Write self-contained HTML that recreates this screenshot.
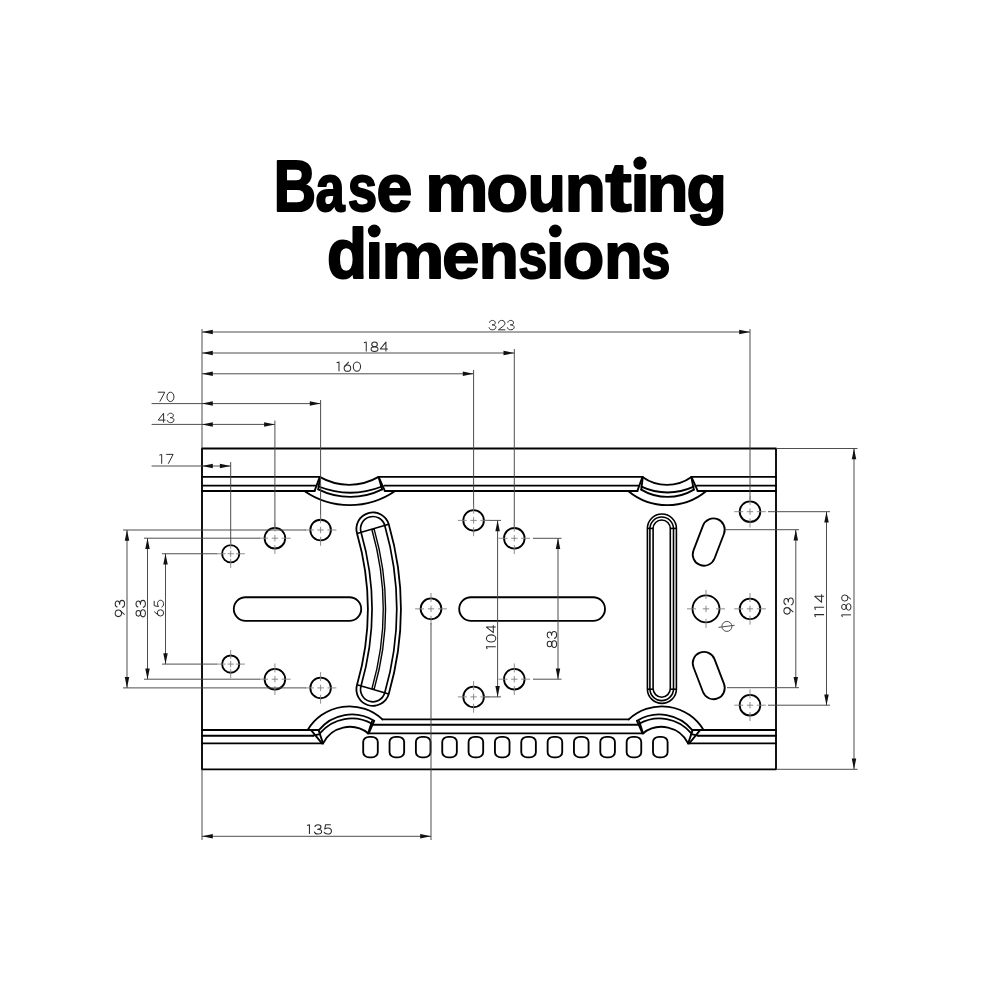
<!DOCTYPE html>
<html><head><meta charset="utf-8"><title>Base mounting dimensions</title>
<style>
html,body{margin:0;padding:0;background:#fff;}
body{width:1000px;height:1000px;overflow:hidden;}
svg{display:block;}
.title{font-family:"Liberation Sans",sans-serif;font-weight:bold;font-size:100px;fill:#000;stroke:#000;stroke-width:3.0px;stroke-linejoin:round;}
</style></head><body>
<svg width="1000" height="1000" viewBox="0 0 1000 1000">
<rect width="1000" height="1000" fill="#fff"/>
<g class="title">
<text transform="translate(273.7,210.73) scale(0.5859,0.7145)" x="0" y="0">B</text>
<text transform="translate(315.47,210.8) scale(0.5249,0.6655)" x="0" y="0">a</text>
<text transform="translate(347.69,210.8) scale(0.5294,0.6643)" x="0" y="0">s</text>
<text transform="translate(376.46,210.8) scale(0.6433,0.6655)" x="0" y="0">e</text>
<text transform="translate(425.37,210.8) scale(0.7111,0.6643)" x="0" y="0">m</text>
<text transform="translate(486.62,210.8) scale(0.6794,0.6655)" x="0" y="0">o</text>
<text transform="translate(527.87,210.8) scale(0.6228,0.6667)" x="0" y="0">u</text>
<text transform="translate(564.87,210.8) scale(0.6725,0.6643)" x="0" y="0">n</text>
<text transform="translate(605.43,210.77) scale(0.7832,0.6862)" x="0" y="0">t</text>
<text transform="translate(630.38,210.78) scale(0.6826,0.6774)" x="0" y="0">ı</text>
<text transform="translate(646.72,210.8) scale(0.6832,0.6643)" x="0" y="0">n</text>
<text transform="translate(686.53,210.8) scale(0.6614,0.6643)" x="0" y="0">g</text>
<text transform="translate(326.9,278.15) scale(0.6554,0.7020)" x="0" y="0">d</text>
<text transform="translate(365.48,278.2) scale(0.6287,0.6685)" x="0" y="0">ı</text>
<text transform="translate(381.6,278.22) scale(0.7054,0.6555)" x="0" y="0">m</text>
<text transform="translate(442.2,278.21) scale(0.6667,0.6567)" x="0" y="0">e</text>
<text transform="translate(478.86,278.22) scale(0.6550,0.6555)" x="0" y="0">n</text>
<text transform="translate(518.25,278.22) scale(0.5235,0.6555)" x="0" y="0">s</text>
<text transform="translate(546.11,278.2) scale(0.6587,0.6685)" x="0" y="0">ı</text>
<text transform="translate(562.87,278.21) scale(0.6785,0.6567)" x="0" y="0">o</text>
<text transform="translate(604.3,278.22) scale(0.6277,0.6555)" x="0" y="0">n</text>
<text transform="translate(641.56,278.22) scale(0.5196,0.6555)" x="0" y="0">s</text>
<circle cx="639.95" cy="163.1" r="6.6" stroke="none"/>
<circle cx="374.25" cy="231" r="6.4" stroke="none"/>
<circle cx="555.3" cy="231" r="6.4" stroke="none"/>
</g>
<g fill="none">
<path d="M372.9,528.9A290.6,290.6 0 0 1 372.9,689.4" stroke="#000" stroke-width="34.8" stroke-linecap="round"/>
<path d="M372.9,528.9A290.6,290.6 0 0 1 372.9,689.4" stroke="#fff" stroke-width="31.2" stroke-linecap="round"/>
<path d="M372.9,528.9A290.6,290.6 0 0 1 372.9,689.4" stroke="#000" stroke-width="26.4" stroke-linecap="round"/>
<path d="M372.9,528.9A290.6,290.6 0 0 1 372.9,689.4" stroke="#fff" stroke-width="23.0" stroke-linecap="round"/>
<path d="M357.04,533.46L388.76,524.34" stroke="#000" stroke-width="1.6"/>
<path d="M357.04,684.84L388.76,693.96" stroke="#000" stroke-width="1.6"/>
<path d="M372.9,528.9A290.6,290.6 0 0 1 372.9,689.4" stroke="#000" stroke-width="3.7"/>
<path d="M373.22,530.02A290.6,290.6 0 0 1 373.22,688.28" stroke="#fff" stroke-width="0.9"/>
</g>
<g fill="none" stroke="#000" stroke-width="1.85" stroke-linecap="round" stroke-linejoin="round">
<rect x="202.0" y="448.5" width="574.0" height="320.8"/>
<path d="M202,476.9L319.75,476.9"/>
<path d="M378.6,476.9L642.5,476.9"/>
<path d="M691.45,476.9L776,476.9"/>
<path d="M202,485.6L315.6,485.6"/>
<path d="M384.3,485.6L638.3,485.6"/>
<path d="M696.8,485.6L776,485.6"/>
<path d="M202,491L314.8,491"/>
<path d="M384.65,491L637.55,491"/>
<path d="M697.5,491L776,491"/>
<path d="M319.75,476.9A58.71,58.71 0 0 0 378.6,476.9"/>
<path d="M318.65,486.5A86.34,86.34 0 0 0 381.9,486.5"/>
<path d="M318.3,489.4A71.8,71.8 0 0 0 382.2,489.4"/>
<path d="M304.35,491A79.83,79.83 0 0 0 395.1,491"/>
<path d="M319.75,476.9L314.8,490.4"/>
<path d="M319.9,478.6L318.2,489.4"/>
<path d="M378.6,476.9L384.65,490.4"/>
<path d="M379,478.6L382.1,489.4"/>
<path d="M642.5,476.9A41.86,41.86 0 0 0 691.45,476.9"/>
<path d="M641.4,486.7A61.68,61.68 0 0 0 693.65,486.7"/>
<path d="M641.2,489.6A51.16,51.16 0 0 0 693.9,489.6"/>
<path d="M628.2,491A60.95,60.95 0 0 0 706.3,491"/>
<path d="M642.5,476.9L637.55,490.4"/>
<path d="M642.6,478.6L641.3,489.6"/>
<path d="M691.45,476.9L697.5,490.4"/>
<path d="M691.6,478.6L693.8,489.6"/>
<path d="M202,730L318.65,730"/>
<path d="M202,735.7L313.15,735.7"/>
<path d="M202,743.4L323.05,743.4"/>
<path d="M382.45,719.4L628.75,719.4"/>
<path d="M373.65,724.7L637.55,724.7"/>
<path d="M367.6,733.3L643.6,733.3"/>
<path d="M692.55,730L776,730"/>
<path d="M698.05,735.7L776,735.7"/>
<path d="M688.15,743.4L776,743.4"/>
<path d="M307.65,730A48.56,48.56 0 0 1 382.45,719.4"/>
<path d="M318.65,730.4A42.54,42.54 0 0 1 374.2,720.85"/>
<path d="M320.3,732.95A41.28,41.28 0 0 1 372,723.8"/>
<path d="M323.05,743.4A29.76,29.76 0 0 1 368.15,733.3"/>
<path d="M311.5,730.6L321.95,743.4"/>
<path d="M318.65,730.4L323.05,743.4"/>
<path d="M313.15,735.7L319.9,734.2"/>
<path d="M374.2,720.85L368.7,733.3"/>
<path d="M372,721.4L368.15,733.3"/>
<path d="M703.55,730A48.56,48.56 0 0 0 628.75,719.4"/>
<path d="M692.55,730.4A42.54,42.54 0 0 0 637,720.85"/>
<path d="M690.9,732.95A41.28,41.28 0 0 0 639.2,723.8"/>
<path d="M688.15,743.4A29.76,29.76 0 0 0 643.05,733.3"/>
<path d="M699.7,730.6L689.25,743.4"/>
<path d="M692.55,730.4L688.15,743.4"/>
<path d="M698.05,735.7L691.3,734.2"/>
<path d="M637,720.85L642.5,733.3"/>
<path d="M639.2,721.4L643.05,733.3"/>
<rect x="363.2" y="736.8" width="14.6" height="20.6" rx="6" ry="5.2"/>
<rect x="389.55" y="736.8" width="14.6" height="20.6" rx="6" ry="5.2"/>
<rect x="415.89" y="736.8" width="14.6" height="20.6" rx="6" ry="5.2"/>
<rect x="442.24" y="736.8" width="14.6" height="20.6" rx="6" ry="5.2"/>
<rect x="468.58" y="736.8" width="14.6" height="20.6" rx="6" ry="5.2"/>
<rect x="494.93" y="736.8" width="14.6" height="20.6" rx="6" ry="5.2"/>
<rect x="521.27" y="736.8" width="14.6" height="20.6" rx="6" ry="5.2"/>
<rect x="547.62" y="736.8" width="14.6" height="20.6" rx="6" ry="5.2"/>
<rect x="573.96" y="736.8" width="14.6" height="20.6" rx="6" ry="5.2"/>
<rect x="600.31" y="736.8" width="14.6" height="20.6" rx="6" ry="5.2"/>
<rect x="626.65" y="736.8" width="14.6" height="20.6" rx="6" ry="5.2"/>
<rect x="653" y="736.8" width="14.6" height="20.6" rx="6" ry="5.2"/>
<circle cx="230.7" cy="553.75" r="8.6"/>
<circle cx="274.9" cy="538.2" r="10.3"/>
<circle cx="320.6" cy="530" r="10.3"/>
<circle cx="230.7" cy="664.1" r="8.6"/>
<circle cx="274.9" cy="679.2" r="10.3"/>
<circle cx="320.6" cy="687.9" r="10.3"/>
<circle cx="473.6" cy="520.4" r="10.3"/>
<circle cx="514.3" cy="538.3" r="10.3"/>
<circle cx="514.3" cy="679.2" r="10.3"/>
<circle cx="473.6" cy="696.9" r="10.3"/>
<circle cx="431" cy="608.85" r="10.4"/>
<circle cx="750" cy="511.7" r="10.3"/>
<circle cx="750" cy="608.85" r="10.3"/>
<circle cx="750" cy="705.2" r="10.3"/>
<circle cx="706" cy="608.85" r="13.5"/>
<rect x="233.8" y="597.2" width="127.4" height="23.6" rx="11.8" ry="11.8"/>
<rect x="459.2" y="597.2" width="145.8" height="23.6" rx="11.8" ry="11.8"/>
<rect x="-11.25" y="-24.5" width="22.5" height="49" rx="11.25" ry="11.25" transform="translate(708.75,542.1) rotate(21)"/>
<rect x="-11.25" y="-24.5" width="22.5" height="49" rx="11.25" ry="11.25" transform="translate(708.75,675.6) rotate(-21)"/>
</g>
<g fill="none" stroke="#000" stroke-width="1.6">
<rect x="647.4" y="514" width="29" height="189.4" rx="14.5" ry="14.5"/>
<rect x="649.9" y="517" width="23.6" height="183.6" rx="11.8" ry="11.8"/>
<rect x="653.1" y="520" width="17.2" height="177.2" rx="8.6" ry="8.6"/>
<path d="M647.4,528.4L653.1,528.4"/>
<path d="M670.3,528.4L676.4,528.4"/>
<path d="M647.4,689.2L653.1,689.2"/>
<path d="M670.3,689.2L676.4,689.2"/>
</g>
<g fill="none" stroke="#444" stroke-width="0.95">
<path d="M202,329L202,448.5"/>
<path d="M202,332L750,332"/>
<path d="M750,329L750,500"/>
<path d="M202,353L514.3,353"/>
<path d="M514.3,349L514.3,527"/>
<path d="M202,373.8L473.6,373.8"/>
<path d="M473.6,370L473.6,509"/>
<path d="M151.6,403.6L320.6,403.6"/>
<path d="M320.6,400L320.6,519"/>
<path d="M151.6,424.4L274.9,424.4"/>
<path d="M274.9,420.5L274.9,527"/>
<path d="M151.6,466L230.7,466"/>
<path d="M230.7,462L230.7,544"/>
<path d="M127,530L127,687.9"/>
<path d="M123,530L306,530"/>
<path d="M123,687.9L306,687.9"/>
<path d="M147.5,538.2L147.5,679.2"/>
<path d="M144,538.2L260,538.2"/>
<path d="M144,679.2L260,679.2"/>
<path d="M165.5,553.75L165.5,664.1"/>
<path d="M162,553.75L217,553.75"/>
<path d="M162,664.1L217,664.1"/>
<path d="M497.6,520.4L497.6,696.9"/>
<path d="M485,520.4L501,520.4"/>
<path d="M485,696.9L501,696.9"/>
<path d="M558,538.3L558,679.2"/>
<path d="M533,538.3L561.5,538.3"/>
<path d="M533,679.2L561.5,679.2"/>
<path d="M795.8,529.7L795.8,687.7"/>
<path d="M725.5,529.7L799,529.7"/>
<path d="M727,687.7L799,687.7"/>
<path d="M826.5,511.7L826.5,705.2"/>
<path d="M768,511.7L830,511.7"/>
<path d="M768,705.2L830,705.2"/>
<path d="M854,448.5L854,769.3"/>
<path d="M776,448.5L857.5,448.5"/>
<path d="M776,769.3L857.5,769.3"/>
<path d="M202,836.3L431,836.3"/>
<path d="M202,769.3L202,840"/>
<path d="M431,623L431,840"/>
<circle cx="726.9" cy="626.4" r="5"/>
<path d="M718.5,627.4L734.6,625.3"/>
</g>
<g fill="none" stroke="#808080" stroke-width="0.9">
<path d="M227.5,553.75L233.9,553.75"/>
<path d="M230.7,550.55L230.7,556.95"/>
<path d="M235.8,553.75L244.8,553.75"/>
<path d="M225.6,553.75L216.6,553.75"/>
<path d="M230.7,558.85L230.7,567.85"/>
<path d="M230.7,548.65L230.7,539.65"/>
<path d="M271.7,538.2L278.1,538.2"/>
<path d="M274.9,535L274.9,541.4"/>
<path d="M281.7,538.2L290.7,538.2"/>
<path d="M268.1,538.2L259.1,538.2"/>
<path d="M274.9,545L274.9,554"/>
<path d="M274.9,531.4L274.9,522.4"/>
<path d="M317.4,530L323.8,530"/>
<path d="M320.6,526.8L320.6,533.2"/>
<path d="M327.4,530L336.4,530"/>
<path d="M313.8,530L304.8,530"/>
<path d="M320.6,536.8L320.6,545.8"/>
<path d="M320.6,523.2L320.6,514.2"/>
<path d="M227.5,664.1L233.9,664.1"/>
<path d="M230.7,660.9L230.7,667.3"/>
<path d="M235.8,664.1L244.8,664.1"/>
<path d="M225.6,664.1L216.6,664.1"/>
<path d="M230.7,669.2L230.7,678.2"/>
<path d="M230.7,659L230.7,650"/>
<path d="M271.7,679.2L278.1,679.2"/>
<path d="M274.9,676L274.9,682.4"/>
<path d="M281.7,679.2L290.7,679.2"/>
<path d="M268.1,679.2L259.1,679.2"/>
<path d="M274.9,686L274.9,695"/>
<path d="M274.9,672.4L274.9,663.4"/>
<path d="M317.4,687.9L323.8,687.9"/>
<path d="M320.6,684.7L320.6,691.1"/>
<path d="M327.4,687.9L336.4,687.9"/>
<path d="M313.8,687.9L304.8,687.9"/>
<path d="M320.6,694.7L320.6,703.7"/>
<path d="M320.6,681.1L320.6,672.1"/>
<path d="M470.4,520.4L476.8,520.4"/>
<path d="M473.6,517.2L473.6,523.6"/>
<path d="M480.4,520.4L489.4,520.4"/>
<path d="M466.8,520.4L457.8,520.4"/>
<path d="M473.6,527.2L473.6,536.2"/>
<path d="M473.6,513.6L473.6,504.6"/>
<path d="M511.1,538.3L517.5,538.3"/>
<path d="M514.3,535.1L514.3,541.5"/>
<path d="M521.1,538.3L530.1,538.3"/>
<path d="M507.5,538.3L498.5,538.3"/>
<path d="M514.3,545.1L514.3,554.1"/>
<path d="M514.3,531.5L514.3,522.5"/>
<path d="M511.1,679.2L517.5,679.2"/>
<path d="M514.3,676L514.3,682.4"/>
<path d="M521.1,679.2L530.1,679.2"/>
<path d="M507.5,679.2L498.5,679.2"/>
<path d="M514.3,686L514.3,695"/>
<path d="M514.3,672.4L514.3,663.4"/>
<path d="M470.4,696.9L476.8,696.9"/>
<path d="M473.6,693.7L473.6,700.1"/>
<path d="M480.4,696.9L489.4,696.9"/>
<path d="M466.8,696.9L457.8,696.9"/>
<path d="M473.6,703.7L473.6,712.7"/>
<path d="M473.6,690.1L473.6,681.1"/>
<path d="M427.8,608.85L434.2,608.85"/>
<path d="M431,605.65L431,612.05"/>
<path d="M437.9,608.85L446.9,608.85"/>
<path d="M424.1,608.85L415.1,608.85"/>
<path d="M431,615.75L431,624.75"/>
<path d="M431,601.95L431,592.95"/>
<path d="M746.8,511.7L753.2,511.7"/>
<path d="M750,508.5L750,514.9"/>
<path d="M756.8,511.7L765.8,511.7"/>
<path d="M743.2,511.7L734.2,511.7"/>
<path d="M750,518.5L750,527.5"/>
<path d="M750,504.9L750,495.9"/>
<path d="M746.8,608.85L753.2,608.85"/>
<path d="M750,605.65L750,612.05"/>
<path d="M756.8,608.85L765.8,608.85"/>
<path d="M743.2,608.85L734.2,608.85"/>
<path d="M750,615.65L750,624.65"/>
<path d="M750,602.05L750,593.05"/>
<path d="M746.8,705.2L753.2,705.2"/>
<path d="M750,702L750,708.4"/>
<path d="M756.8,705.2L765.8,705.2"/>
<path d="M743.2,705.2L734.2,705.2"/>
<path d="M750,712L750,721"/>
<path d="M750,698.4L750,689.4"/>
<path d="M702.8,608.85L709.2,608.85"/>
<path d="M706,605.65L706,612.05"/>
<path d="M716,608.85L725,608.85"/>
<path d="M696,608.85L687,608.85"/>
<path d="M706,618.85L706,627.85"/>
<path d="M706,598.85L706,589.85"/>
</g>
<g fill="#111" stroke="none">
<path d="M202,332L212.8,329.75L212.8,334.25Z"/>
<path d="M750,332L739.2,334.25L739.2,329.75Z"/>
<path d="M202,353L212.8,350.75L212.8,355.25Z"/>
<path d="M514.3,353L503.5,355.25L503.5,350.75Z"/>
<path d="M202,373.8L212.8,371.55L212.8,376.05Z"/>
<path d="M473.6,373.8L462.8,376.05L462.8,371.55Z"/>
<path d="M202,403.6L212.8,401.35L212.8,405.85Z"/>
<path d="M320.6,403.6L309.8,405.85L309.8,401.35Z"/>
<path d="M202,424.4L212.8,422.15L212.8,426.65Z"/>
<path d="M274.9,424.4L264.1,426.65L264.1,422.15Z"/>
<path d="M202,466L212.8,463.75L212.8,468.25Z"/>
<path d="M230.7,466L219.9,468.25L219.9,463.75Z"/>
<path d="M127,530L129.25,540.8L124.75,540.8Z"/>
<path d="M127,687.9L124.75,677.1L129.25,677.1Z"/>
<path d="M147.5,538.2L149.75,549L145.25,549Z"/>
<path d="M147.5,679.2L145.25,668.4L149.75,668.4Z"/>
<path d="M165.5,553.75L167.75,564.55L163.25,564.55Z"/>
<path d="M165.5,664.1L163.25,653.3L167.75,653.3Z"/>
<path d="M497.6,520.4L499.85,531.2L495.35,531.2Z"/>
<path d="M497.6,696.9L495.35,686.1L499.85,686.1Z"/>
<path d="M558,538.3L560.25,549.1L555.75,549.1Z"/>
<path d="M558,679.2L555.75,668.4L560.25,668.4Z"/>
<path d="M795.8,529.7L798.05,540.5L793.55,540.5Z"/>
<path d="M795.8,687.7L793.55,676.9L798.05,676.9Z"/>
<path d="M826.5,511.7L828.75,522.5L824.25,522.5Z"/>
<path d="M826.5,705.2L824.25,694.4L828.75,694.4Z"/>
<path d="M854,448.5L856.25,459.3L851.75,459.3Z"/>
<path d="M854,769.3L851.75,758.5L856.25,758.5Z"/>
<path d="M202,836.3L212.8,834.05L212.8,838.55Z"/>
<path d="M431,836.3L420.2,838.55L420.2,834.05Z"/>
</g>
<g fill="none" stroke="#2a2a2a" stroke-width="1" stroke-linejoin="round">
<g transform="translate(488.8,329.8) scale(0.9981,1.0000) translate(0,-9.4)"><g transform="translate(0,0)"><path d="M0.7,2.3C0.9,0.9 2.1,0 3.6,0C5.3,0 6.5,1 6.5,2.35C6.5,3.7 5.4,4.45 3.3,4.45C5.7,4.45 7.1,5.4 7.1,6.9C7.1,8.4 5.6,9.4 3.6,9.4C1.8,9.4 0.5,8.5 0.2,6.9"/></g><g transform="translate(9.15,0)"><path d="M0.5,3C0.5,1.2 1.9,0 3.7,0C5.6,0 7,1.2 7,2.9C7,4.2 6.2,5 5,6L0.5,9.4L7.4,9.4"/></g><g transform="translate(18.3,0)"><path d="M0.7,2.3C0.9,0.9 2.1,0 3.6,0C5.3,0 6.5,1 6.5,2.35C6.5,3.7 5.4,4.45 3.3,4.45C5.7,4.45 7.1,5.4 7.1,6.9C7.1,8.4 5.6,9.4 3.6,9.4C1.8,9.4 0.5,8.5 0.2,6.9"/></g></g>
<g transform="translate(363.9,351.5) scale(1.0215,1.0000) translate(0,-9.4)"><g transform="translate(0,0)"><path d="M0,0.75L2.3,0L2.3,9.4"/></g><g transform="translate(6.7,0)"><ellipse cx="3.72" cy="2.3" rx="2.7" ry="2.3"/><ellipse cx="3.72" cy="7" rx="3.4" ry="2.4"/></g><g transform="translate(15.85,0)"><path d="M5.7,9.4L5.7,0L0.2,6.9L7.6,6.9"/></g></g>
<g transform="translate(336.6,371.3) scale(1.0386,1.0000) translate(0,-9.4)"><g transform="translate(0,0)"><path d="M0,0.75L2.3,0L2.3,9.4"/></g><g transform="translate(6.7,0)"><circle cx="3.72" cy="6.25" r="3.15"/><path d="M5,0L1.15,4.45"/></g><g transform="translate(15.85,0)"><ellipse cx="3.72" cy="4.7" rx="3.5" ry="4.7"/></g></g>
<g transform="translate(157.6,401.6) scale(1.0000,1.0000) translate(0,-9.4)"><g transform="translate(0,0)"><path d="M0.2,0L7.2,0L2.2,9.4"/></g><g transform="translate(9.15,0)"><ellipse cx="3.72" cy="4.7" rx="3.5" ry="4.7"/></g></g>
<g transform="translate(158,422.6) scale(0.9819,1.0000) translate(0,-9.4)"><g transform="translate(0,0)"><path d="M5.7,9.4L5.7,0L0.2,6.9L7.6,6.9"/></g><g transform="translate(9.15,0)"><path d="M0.7,2.3C0.9,0.9 2.1,0 3.6,0C5.3,0 6.5,1 6.5,2.35C6.5,3.7 5.4,4.45 3.3,4.45C5.7,4.45 7.1,5.4 7.1,6.9C7.1,8.4 5.6,9.4 3.6,9.4C1.8,9.4 0.5,8.5 0.2,6.9"/></g></g>
<g transform="translate(159.4,463.8) scale(0.9894,1.0000) translate(0,-9.4)"><g transform="translate(0,0)"><path d="M0,0.75L2.3,0L2.3,9.4"/></g><g transform="translate(6.7,0)"><path d="M0.2,0L7.2,0L2.2,9.4"/></g></g>
<g transform="translate(124.6,617.2) rotate(-90) scale(1.0361,1.0000) translate(0,-9.4)"><g transform="translate(0,0)"><circle cx="3.72" cy="3.15" r="3.15"/><path d="M6.3,4.95L2.45,9.4"/></g><g transform="translate(9.15,0)"><path d="M0.7,2.3C0.9,0.9 2.1,0 3.6,0C5.3,0 6.5,1 6.5,2.35C6.5,3.7 5.4,4.45 3.3,4.45C5.7,4.45 7.1,5.4 7.1,6.9C7.1,8.4 5.6,9.4 3.6,9.4C1.8,9.4 0.5,8.5 0.2,6.9"/></g></g>
<g transform="translate(145.4,617.2) rotate(-90) scale(1.0361,1.0000) translate(0,-9.4)"><g transform="translate(0,0)"><ellipse cx="3.72" cy="2.3" rx="2.7" ry="2.3"/><ellipse cx="3.72" cy="7" rx="3.4" ry="2.4"/></g><g transform="translate(9.15,0)"><path d="M0.7,2.3C0.9,0.9 2.1,0 3.6,0C5.3,0 6.5,1 6.5,2.35C6.5,3.7 5.4,4.45 3.3,4.45C5.7,4.45 7.1,5.4 7.1,6.9C7.1,8.4 5.6,9.4 3.6,9.4C1.8,9.4 0.5,8.5 0.2,6.9"/></g></g>
<g transform="translate(163.6,616.6) rotate(-90) scale(1.0000,1.0000) translate(0,-9.4)"><g transform="translate(0,0)"><circle cx="3.72" cy="6.25" r="3.15"/><path d="M5,0L1.15,4.45"/></g><g transform="translate(9.15,0)"><path d="M6.6,0L1.7,0L0.9,4.3C1.8,3.6 2.8,3.3 3.8,3.3C5.8,3.3 7.2,4.6 7.2,6.3C7.2,8.1 5.7,9.4 3.7,9.4C2,9.4 0.7,8.6 0.2,7.3"/></g></g>
<g transform="translate(495.8,649.1) rotate(-90) scale(1.0215,1.0000) translate(0,-9.4)"><g transform="translate(0,0)"><path d="M0,0.75L2.3,0L2.3,9.4"/></g><g transform="translate(6.7,0)"><ellipse cx="3.72" cy="4.7" rx="3.5" ry="4.7"/></g><g transform="translate(15.85,0)"><path d="M5.7,9.4L5.7,0L0.2,6.9L7.6,6.9"/></g></g>
<g transform="translate(556.6,647.8) rotate(-90) scale(1.0060,1.0000) translate(0,-9.4)"><g transform="translate(0,0)"><ellipse cx="3.72" cy="2.3" rx="2.7" ry="2.3"/><ellipse cx="3.72" cy="7" rx="3.4" ry="2.4"/></g><g transform="translate(9.15,0)"><path d="M0.7,2.3C0.9,0.9 2.1,0 3.6,0C5.3,0 6.5,1 6.5,2.35C6.5,3.7 5.4,4.45 3.3,4.45C5.7,4.45 7.1,5.4 7.1,6.9C7.1,8.4 5.6,9.4 3.6,9.4C1.8,9.4 0.5,8.5 0.2,6.9"/></g></g>
<g transform="translate(793.3,614.7) rotate(-90) scale(1.0301,1.0000) translate(0,-9.4)"><g transform="translate(0,0)"><circle cx="3.72" cy="3.15" r="3.15"/><path d="M6.3,4.95L2.45,9.4"/></g><g transform="translate(9.15,0)"><path d="M0.7,2.3C0.9,0.9 2.1,0 3.6,0C5.3,0 6.5,1 6.5,2.35C6.5,3.7 5.4,4.45 3.3,4.45C5.7,4.45 7.1,5.4 7.1,6.9C7.1,8.4 5.6,9.4 3.6,9.4C1.8,9.4 0.5,8.5 0.2,6.9"/></g></g>
<g transform="translate(824.1,617.1) rotate(-90) scale(1.0887,1.0000) translate(0,-9.4)"><g transform="translate(0,0)"><path d="M0,0.75L2.3,0L2.3,9.4"/></g><g transform="translate(6.7,0)"><path d="M0,0.75L2.3,0L2.3,9.4"/></g><g transform="translate(13.4,0)"><path d="M5.7,9.4L5.7,0L0.2,6.9L7.6,6.9"/></g></g>
<g transform="translate(851,617.1) rotate(-90) scale(0.9742,1.0000) translate(0,-9.4)"><g transform="translate(0,0)"><path d="M0,0.75L2.3,0L2.3,9.4"/></g><g transform="translate(6.7,0)"><ellipse cx="3.72" cy="2.3" rx="2.7" ry="2.3"/><ellipse cx="3.72" cy="7" rx="3.4" ry="2.4"/></g><g transform="translate(15.85,0)"><circle cx="3.72" cy="3.15" r="3.15"/><path d="M6.3,4.95L2.45,9.4"/></g></g>
<g transform="translate(307,834.1) scale(1.0601,1.0000) translate(0,-9.4)"><g transform="translate(0,0)"><path d="M0,0.75L2.3,0L2.3,9.4"/></g><g transform="translate(6.7,0)"><path d="M0.7,2.3C0.9,0.9 2.1,0 3.6,0C5.3,0 6.5,1 6.5,2.35C6.5,3.7 5.4,4.45 3.3,4.45C5.7,4.45 7.1,5.4 7.1,6.9C7.1,8.4 5.6,9.4 3.6,9.4C1.8,9.4 0.5,8.5 0.2,6.9"/></g><g transform="translate(15.85,0)"><path d="M6.6,0L1.7,0L0.9,4.3C1.8,3.6 2.8,3.3 3.8,3.3C5.8,3.3 7.2,4.6 7.2,6.3C7.2,8.1 5.7,9.4 3.7,9.4C2,9.4 0.7,8.6 0.2,7.3"/></g></g>
</g>
</svg>
</body></html>
